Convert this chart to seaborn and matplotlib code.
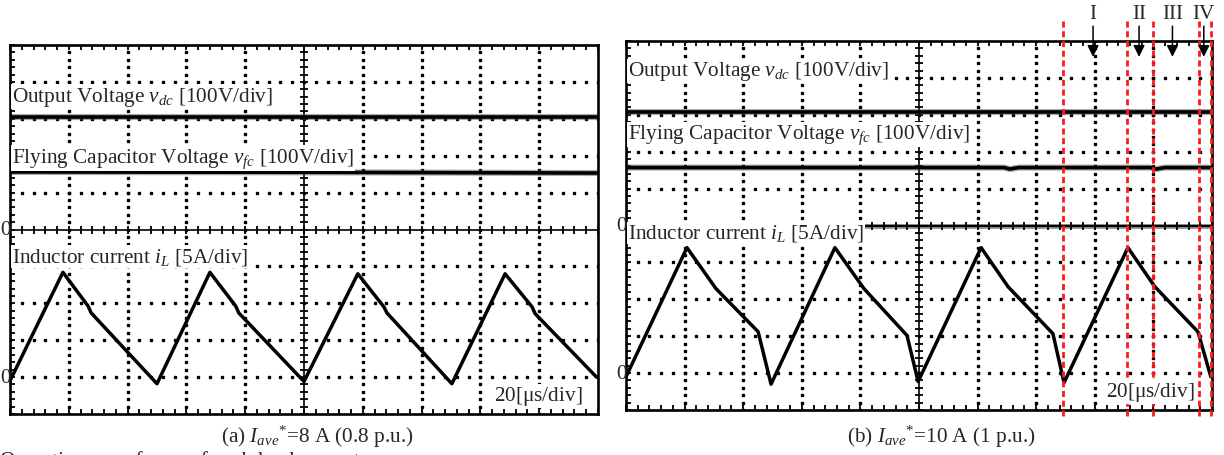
import numpy as np
import pandas as pd
import matplotlib
matplotlib.use("Agg")
import matplotlib.pyplot as plt
import seaborn as sns

# ---------------- data (read from the oscilloscope screens) ----------------
# (a) I_ave* = 8 A : inductor current breakpoints
time_a_us = [0, 18.0, 26.6, 27.6, 50.0, 68.0, 76.8, 77.8, 100.0, 118.3, 127.2, 128.2,
             150.3, 168.4, 177.6, 178.6, 199.5]
current_a_A = [-0.5, 14.2, 9.6, 8.7, -0.9, 14.2, 9.6, 8.7, -0.6, 14.0, 9.5, 8.7,
               -0.9, 14.0, 9.5, 8.6, 0.0]
# (b) I_ave* = 10 A : inductor current breakpoints
time_b_us = [0, 20.8, 30.7, 45.1, 49.5, 71.3, 81.2, 95.9, 99.7, 121.2, 130.4, 145.7,
             149.5, 171.3, 180.5, 195.2, 199.6]
current_b_A = [-0.5, 17.0, 11.45, 5.6, -1.5, 17.0, 11.45, 5.1, -1.15, 17.0, 11.7, 5.35,
               -1.3, 17.0, 11.7, 5.6, -0.5]

# voltages (100 V/div, zero at screen centre)
vdc_time_us = [0, 200]
vdc_a_V = [304, 304]
vdc_b_V = [308, 308]
vfc_a_time_us = [0, 100, 200]
vfc_a_V = [156, 155, 153]
vfc_b_time_us = [0, 129, 131, 134, 179, 181, 184, 200]
vfc_b_V = [157, 157, 153, 157, 157, 153, 157, 157]

# mode boundaries and mode labels in (b)
mode_lines_b_us = [149.1, 171.0, 179.9, 195.6, 199.7]
mode_labels = ["I", "II", "III", "IV"]
mode_label_us = [159.4, 175.1, 186.5, 197.2]

captions = [r"(a) $I_{ave}{}^{*}$=8 A (0.8 p.u.)", r"(b) $I_{ave}{}^{*}$=10 A (1 p.u.)"]
label_vdc = r"Output Voltage $v_{dc}$ [100V/div]"
label_vfc = r"Flying Capacitor Voltage $v_{fc}$ [100V/div]"
label_il = r"Inductor current $i_{L}$ [5A/div]"
label_time = r"20[$\mathrm{\mu}$s/div]"

# ---------------- style ----------------
sns.set_theme(style="white")
plt.rcParams["font.family"] = ["Liberation Serif", "DejaVu Serif"]
plt.rcParams["mathtext.fontset"] = "custom"
plt.rcParams["mathtext.rm"] = "Liberation Serif"
plt.rcParams["mathtext.it"] = "Liberation Serif:italic"
plt.rcParams["mathtext.bf"] = "Liberation Serif:bold"

FS = 15.3
fig = plt.figure(figsize=(12.24, 4.56), dpi=100)
W, H = 1224, 456


def panel(px0, py_top, pw, ph, t_i, i_vals, vdc, vfc_t, vfc, lbl_pos, time_pos, thick_centre):
    ax = fig.add_axes([px0 / W, (H - py_top - ph) / H, pw / W, ph / H])
    ax.set_xlim(0, 200)
    ax.set_ylim(-500, 500)
    # dotted graticule
    for xg in range(20, 200, 20):
        if xg == 100:
            continue
        ys = np.arange(-500, 501, 20)
        ax.plot(np.full_like(ys, xg, dtype=float), ys, ls="none", marker="s", ms=1.6,
                color="black", zorder=1)
    for yg in range(-400, 500, 100):
        if yg == 0:
            continue
        xs = np.arange(0, 201, 4)
        ax.plot(xs, np.full_like(xs, yg, dtype=float), ls="none", marker="s", ms=1.6,
                color="black", zorder=1)
    # centre axes with ticks
    if thick_centre:
        ax.axhline(0, color="#9a9a9a", lw=3.6, zorder=1.5)
    ax.axhline(0, color="black", lw=1.6 if thick_centre else 1.2, zorder=2)
    ax.axvline(100, color="black", lw=1.2, zorder=2)
    xs = np.arange(0, 201, 4)
    ax.plot(xs, np.zeros_like(xs, dtype=float), ls="none", marker="|", ms=6, mew=1.3,
            color="black", zorder=2)
    ys = np.arange(-500, 501, 20)
    ax.plot(np.full_like(ys, 100, dtype=float), ys, ls="none", marker="_", ms=6, mew=1.3,
            color="black", zorder=2)
    # border ticks
    ax.set_xticks(np.arange(0, 201, 4))
    ax.set_yticks(np.arange(-500, 501, 20))
    ax.tick_params(direction="in", length=3.5, width=1.3, top=True, right=True,
                   bottom=True, left=True, labelbottom=False, labelleft=False,
                   colors="black")
    for s in ax.spines.values():
        s.set_color("black")
        s.set_linewidth(1.9)
        s.set_zorder(5)

    # voltage traces
    df_dc = pd.DataFrame({"t": vdc_time_us, "v": vdc})
    df_fc = pd.DataFrame({"t": vfc_t, "v": vfc})
    for df in (df_dc, df_fc):
        sns.lineplot(data=df, x="t", y="v", ax=ax, color="#444444", lw=4.4, alpha=0.45,
                     zorder=3, legend=False)
        sns.lineplot(data=df, x="t", y="v", ax=ax, color="black", lw=2.6, zorder=3.2,
                     legend=False)
    ax.set_xlabel("")
    ax.set_ylabel("")

    # current trace on its own scale (5 A/div, zero one division above bottom)
    axi = ax.twinx()
    axi.set_ylim(-5, 45)
    axi.set_xlim(0, 200)
    df_i = pd.DataFrame({"t": t_i, "i": i_vals})
    sns.lineplot(data=df_i, x="t", y="i", ax=axi, color="black", lw=2.5, zorder=3,
                 legend=False)
    axi.set_yticks([])
    axi.set_xlabel("")
    axi.set_ylabel("")
    for s in axi.spines.values():
        s.set_visible(False)
    axi.patch.set_visible(False)

    bb = dict(facecolor="white", edgecolor="none", pad=0.6)
    for txt, (xa, ya) in zip([label_vdc, label_vfc, label_il], lbl_pos):
        axi.text(xa, ya, txt, transform=axi.transAxes, ha="left", va="center",
                 fontsize=FS, bbox=bb, zorder=10)
    axi.text(time_pos[0], time_pos[1], label_time, transform=axi.transAxes, ha="right",
             va="center", fontsize=FS, bbox=bb, zorder=10)
    # zero markers (left of the screen)
    zx = max((px0 - 10) / W, 0.5 / W)
    for yz in (0.5, 0.1):
        fig.text(zx, (H - py_top - ph + yz * ph) / H, "0", ha="left", va="center",
                 fontsize=FS)
    return ax, axi


# (a)
ax_a, axi_a = panel(10, 46, 588, 369, time_a_us, current_a_A, vdc_a_V, vfc_a_time_us, vfc_a_V,
                    [(0.003, 0.860), (0.003, 0.694), (0.003, 0.426)], (0.974, 0.049), False)
# (b)
ax_b, axi_b = panel(626, 42, 586, 369, time_b_us, current_b_A, vdc_b_V, vfc_b_time_us, vfc_b_V,
                    [(0.003, 0.919), (0.003, 0.746), (0.003, 0.480)], (0.971, 0.051), True)

# mode boundary lines and arrows in (b)
for xm in mode_lines_b_us:
    axi_b.axvline(xm, ymin=-0.016, ymax=1.054, color="#ff1a1a", lw=2.0,
                  dashes=(2.2, 1.3), clip_on=False, zorder=6)
for lab, xm in zip(mode_labels, mode_label_us):
    axi_b.annotate("", xy=(xm, 0.957), xytext=(xm, 1.040),
                   xycoords=("data", "axes fraction"), textcoords=("data", "axes fraction"),
                   arrowprops=dict(arrowstyle="-|>", color="black", lw=1.1, mutation_scale=17,
                                   shrinkA=0, shrinkB=0), annotation_clip=False, zorder=7)
    axi_b.text(xm, 1.075, lab, transform=axi_b.get_xaxis_transform(), ha="center",
               va="center", fontsize=FS, clip_on=False)

# captions
fig.text(317 / W, (H - 437) / H, captions[0], ha="center", va="center", fontsize=FS)
fig.text(941 / W, (H - 437) / H, captions[1], ha="center", va="center", fontsize=FS)
fig.text(0.0, (H - 461) / H, "Operation waveforms of each load current.", ha="left",
         va="center", fontsize=FS)

fig.savefig("out.png", dpi=100)
